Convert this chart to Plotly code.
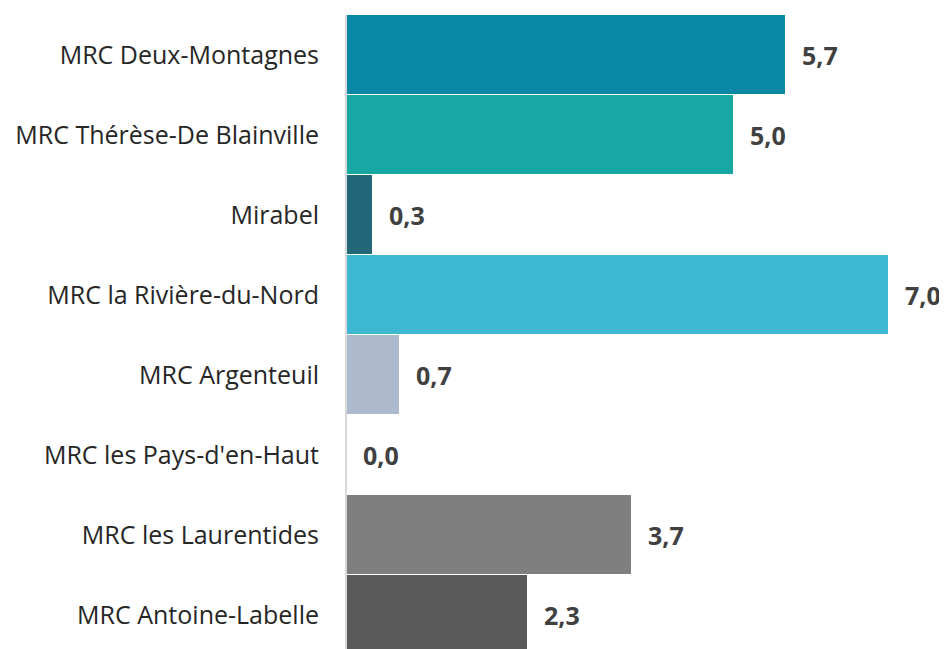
import plotly.graph_objects as go

categories = [
    "MRC Deux-Montagnes",
    "MRC Thérèse-De Blainville",
    "Mirabel",
    "MRC la Rivière-du-Nord",
    "MRC Argenteuil",
    "MRC les Pays-d'en-Haut",
    "MRC les Laurentides",
    "MRC Antoine-Labelle",
]
values = [5.67, 5.0, 0.33, 7.0, 0.68, 0.0, 3.68, 2.34]
colors = ["#0A87A4", "#17A8A3", "#236878", "#3EB7D3", "#ADB9CD", "#FFFFFF", "#7F7F7F", "#595959"]

labels = [f"{v:.1f}".replace(".", ",") for v in values]

fig = go.Figure()
fig.add_trace(go.Bar(
    y=categories,
    x=values,
    orientation="h",
    marker=dict(color=colors, line=dict(color="white", width=1)),
    hoverinfo="skip",
))

for c, v, t in zip(categories, values, labels):
    fig.add_annotation(
        x=v, y=c, xref="x", yref="y",
        text=t, showarrow=False,
        xanchor="left", yanchor="middle",
        xshift=14,
        font=dict(family="Open Sans", size=25, color="#404040", weight="bold"),
    )

fig.update_layout(
    width=947, height=649,
    margin=dict(l=339, r=66, t=7, b=8),
    plot_bgcolor="white", paper_bgcolor="white",
    bargap=0,
    showlegend=False,
    font=dict(family="Open Sans", size=25, color="#262626"),
)
fig.update_xaxes(range=[0, 7.0], visible=False, showgrid=False, zeroline=False)
fig.update_yaxes(
    range=[7.425, -0.5],
    showline=True, linecolor="#D9D9D9", linewidth=2,
    ticks="", showgrid=False, zeroline=False,
    ticklabelstandoff=21,
    tickfont=dict(family="Open Sans", size=25, color="#262626"),
)

fig.write_html("out.html")
